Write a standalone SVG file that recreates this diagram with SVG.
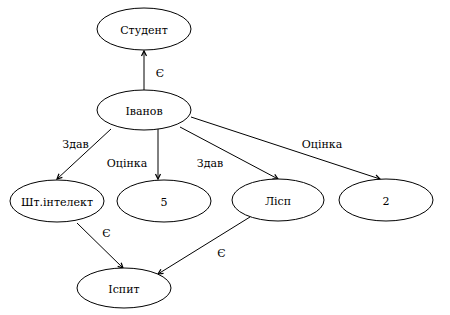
<svg xmlns="http://www.w3.org/2000/svg" width="450" height="315" viewBox="0 0 450 315">
<style>
.node ellipse{fill:#fff;stroke:#000;stroke-width:1}
text{font-family:'DejaVu Serif','Liberation Serif',serif;font-size:11px;fill:#000;text-anchor:middle}
.edges line{stroke:#000;stroke-width:1;fill:none;marker-end:url(#arr)}
</style>
<defs>
<marker id="arr" markerUnits="userSpaceOnUse" markerWidth="10" markerHeight="10" viewBox="-6 -4 7 8" refX="0" refY="0" orient="auto">
<path d="M-4,-2 L0,0 L-4,2" fill="none" stroke="#000" stroke-width="1"/>
</marker>
</defs>
<rect width="450" height="315" fill="#fff"/>
<g class="edges">
<line x1="144" y1="90" x2="144" y2="51"/>
<line x1="111" y1="129" x2="57" y2="179"/>
<line x1="158" y1="129" x2="158" y2="179"/>
<line x1="180" y1="127" x2="278" y2="179"/>
<line x1="191" y1="117" x2="380" y2="179"/>
<line x1="77" y1="223" x2="123" y2="268"/>
<line x1="250" y1="217" x2="158" y2="274"/>
<text x="160" y="77">Є</text>
<text x="75.5" y="148">Здав</text>
<text x="127" y="167">Оцінка</text>
<text x="210" y="167">Здав</text>
<text x="322" y="148">Оцінка</text>
<text x="106.5" y="237">Є</text>
<text x="221.5" y="257">Є</text>
</g>
<g id="student" class="node"><ellipse cx="144" cy="29" rx="47" ry="21"/><text x="144" y="34">Студент</text></g>
<g id="ivanov" class="node"><ellipse cx="144" cy="110" rx="47" ry="20"/><text x="144" y="115">Іванов</text></g>
<g id="shtint" class="node"><ellipse cx="57" cy="201" rx="47" ry="21"/><text x="57" y="206">Шт.інтелект</text></g>
<g id="five" class="node"><ellipse cx="164" cy="201" rx="47" ry="21"/><text x="164" y="206">5</text></g>
<g id="lisp" class="node"><ellipse cx="278" cy="200" rx="46" ry="21"/><text x="278" y="205">Лісп</text></g>
<g id="two" class="node"><ellipse cx="386" cy="200" rx="47" ry="21"/><text x="386" y="205">2</text></g>
<g id="ispyt" class="node"><ellipse cx="124" cy="288" rx="47" ry="20"/><text x="124" y="293">Іспит</text></g>
</svg>
